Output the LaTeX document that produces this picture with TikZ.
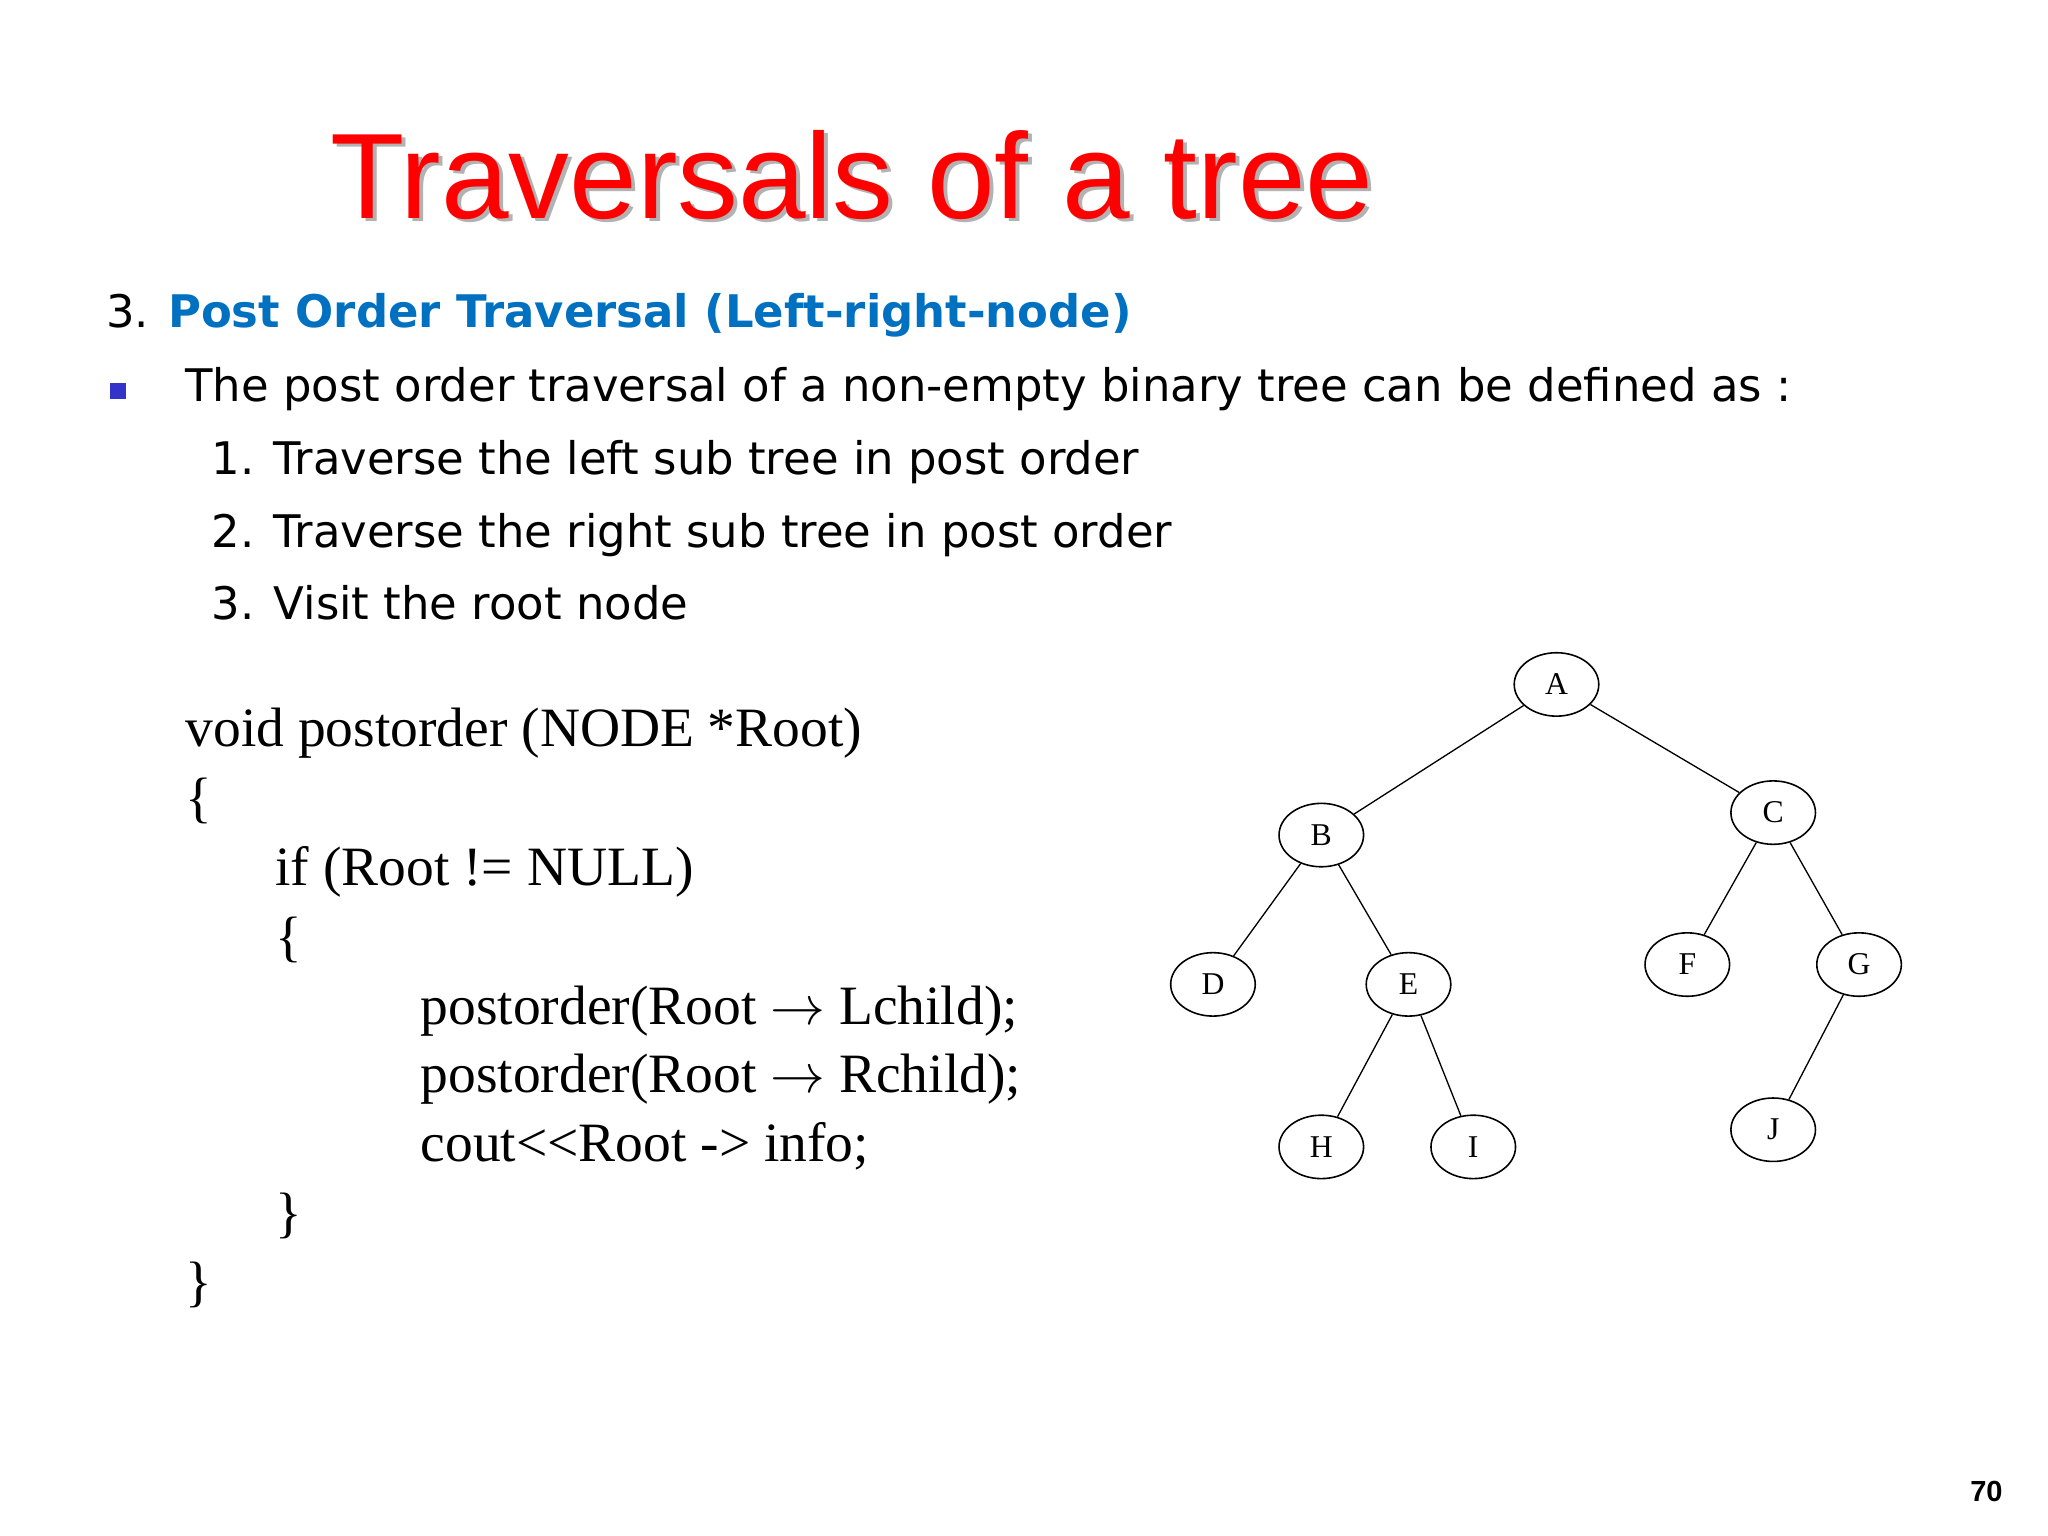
\documentclass[tikz,border=0pt]{standalone}
\usepackage{fontspec}
\setmainfont{Liberation Serif}
\newfontfamily\slidesans{Liberation Sans}
\newfontfamily\bodysans{DejaVu Sans}
\usetikzlibrary{shapes.geometric}
\definecolor{titlered}{RGB}{255,0,0}
\definecolor{headblue}{RGB}{0,112,192}
\definecolor{bulletblue}{RGB}{51,51,204}
\tikzset{
  txt/.style={anchor=base west, inner sep=0pt, font=\bodysans\fontsize{17pt}{20pt}\selectfont},
  code/.style={anchor=base west, inner sep=0pt, font=\fontsize{21pt}{24pt}\selectfont},
  tn/.style={ellipse, draw, line width=0.6pt, minimum width=32pt, minimum height=24pt, inner sep=0pt, font=\fontsize{12pt}{13pt}\selectfont},
  edge/.style={line width=0.5pt}
}
\begin{document}
\begin{tikzpicture}[x=0.5pt,y=-0.5pt]
\useasboundingbox (0,0) rectangle (1550,1162);
% title
\node[anchor=base west, inner sep=0pt, text=gray!60, font=\slidesans\fontsize{46pt}{50pt}\selectfont] (ts) at (253,168) {Traversals of a tree};
\node[anchor=base west, inner sep=0pt, text=titlered, font=\slidesans\fontsize{46pt}{50pt}\selectfont] (t) at (250,165) {Traversals of a tree};
% heading
\node[txt] (h3) at (80,248) {3. \textcolor{headblue}{\bfseries Post Order Traversal (Left-right-node)}};
\node[fill=bulletblue, minimum size=6pt, inner sep=0pt] (bul) at (89,296) {};
\node[txt] (l0) at (140,304) {The post order traversal of a non-empty binary tree can be defined as :};
\node[txt] (l1) at (160,359) {1. Traverse the left sub tree in post order};
\node[txt] (l2) at (160,414) {2. Traverse the right sub tree in post order};
\node[txt] (l3) at (160,469) {3. Visit the root node};
% code
\node[code] (c1) at (140,565) {void postorder (NODE *Root)};
\node[code] (c2) at (140,618) {\{};
\node[code] (c3) at (208,670) {if (Root != NULL)};
\node[code] (c4) at (208,723) {\{};
\node[code] (c5) at (318,775) {postorder(Root $\rightarrow$ Lchild);};
\node[code] (c6) at (318,827) {postorder(Root $\rightarrow$ Rchild);};
\node[code] (c7) at (318,879) {cout<{}<Root -> info;};
\node[code] (c8) at (208,932) {\}};
\node[code] (c9) at (140,984) {\}};
% tree
\node[tn] (A) at (1178,518) {A};
\node[tn] (B) at (1000,632) {B};
\node[tn] (C) at (1342,615) {C};
\node[tn] (D) at (918,745) {D};
\node[tn] (E) at (1066,745) {E};
\node[tn] (F) at (1277,730) {F};
\node[tn] (G) at (1407,730) {G};
\node[tn] (H) at (1000,868) {H};
\node[tn] (I) at (1115,868) {I};
\node[tn] (J) at (1342,855) {J};
\draw[edge] (A) -- (B);
\draw[edge] (A) -- (C);
\draw[edge] (B) -- (D);
\draw[edge] (B) -- (E);
\draw[edge] (C) -- (F);
\draw[edge] (C) -- (G);
\draw[edge] (E) -- (H);
\draw[edge] (E) -- (I);
\draw[edge] (G) -- (J);
% page number
\node[anchor=base east, inner sep=0pt, font=\slidesans\bfseries\fontsize{11pt}{12pt}\selectfont] (pn) at (1516,1136) {70};
\end{tikzpicture}
\end{document}
